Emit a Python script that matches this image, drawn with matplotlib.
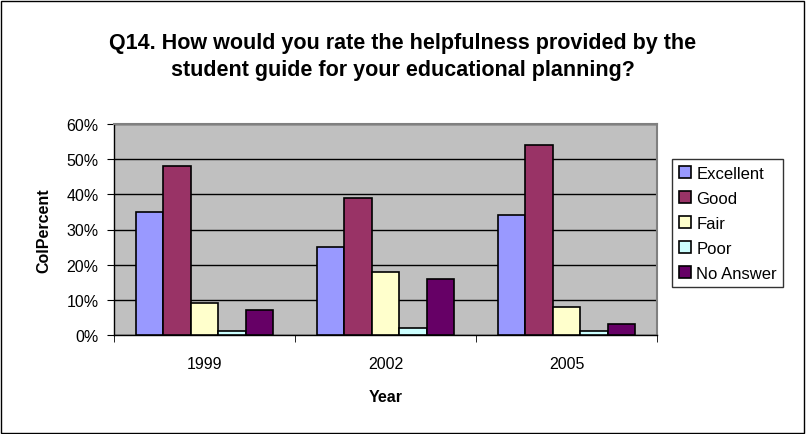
import numpy as np
import matplotlib
matplotlib.use('Agg')
import matplotlib.pyplot as plt
from matplotlib.patches import Rectangle

plt.rcParams['font.family'] = ['Liberation Sans', 'DejaVu Sans']

years = ['1999', '2002', '2005']
series = ['Excellent', 'Good', 'Fair', 'Poor', 'No Answer']
excellent = [35, 25, 34]
good = [48, 39, 54]
fair = [9, 18, 8]
poor = [1, 2, 1]
no_answer = [7, 16, 3]

values = [excellent, good, fair, poor, no_answer]
colors = ['#9999FF', '#993366', '#FFFFCC', '#CCFFFF', '#660066']

fig = plt.figure(figsize=(8.06, 4.35), dpi=100)
ax = fig.add_axes([114 / 806, 1 - 336 / 435, (657 - 114) / 806, (336 - 125) / 435])
ax.set_facecolor('#C0C0C0')

# chart frame round the whole figure
fig.patches.append(Rectangle((0.001, 0.002), 0.997, 0.994, transform=fig.transFigure,
                             fill=False, edgecolor='black', linewidth=1))

x = np.arange(len(years))
width = 0.152
for i, (name, vals) in enumerate(zip(series, values)):
    ax.bar(x - 2 * width + i * width, vals, width, color=colors[i],
           edgecolor='black', linewidth=1.2, label=name, zorder=3)

ax.set_xlim(-0.5, 2.5)
ax.set_ylim(0, 60)
ax.set_yticks(range(0, 61, 10))
ax.set_yticklabels([f'{v}%' for v in range(0, 61, 10)], fontsize=11.5)
ax.set_xticks(x)
ax.set_xticklabels(years, fontsize=11.5)
ax.set_xticks([-0.5, 0.5, 1.5, 2.5], minor=True)
ax.tick_params(axis='x', which='major', length=0, pad=15)
ax.tick_params(axis='x', which='minor', length=5, direction='out', color='black')
ax.tick_params(axis='y', length=5, direction='out', color='black', pad=6)
ax.grid(axis='y', color='black', linewidth=1, zorder=0)

for side in ['top', 'right']:
    ax.spines[side].set_color('#808080')
    ax.spines[side].set_linewidth(1.5)
for side in ['left', 'bottom']:
    ax.spines[side].set_color('black')
    ax.spines[side].set_linewidth(1)

ax.set_xlabel('Year', fontsize=11.5, fontweight='bold', labelpad=13)
ax.set_ylabel('ColPercent', fontsize=11.5, fontweight='bold', labelpad=11)

fig.text(0.5, 1 - 57 / 435,
         'Q14. How would you rate the helpfulness provided by the\nstudent guide for your educational planning?',
         ha='center', va='center', fontsize=15.5, fontweight='bold', linespacing=1.35)

leg = ax.legend(loc='upper left', bbox_to_anchor=(672 / 806, 1 - 160 / 435),
                bbox_transform=fig.transFigure, fontsize=12, frameon=True,
                fancybox=False, edgecolor='black', handlelength=0.75, handleheight=0.75,
                handletextpad=0.3, borderpad=0.4, labelspacing=0.6, borderaxespad=0)
leg.get_frame().set_linewidth(1)

fig.savefig('out.png', dpi=100)
